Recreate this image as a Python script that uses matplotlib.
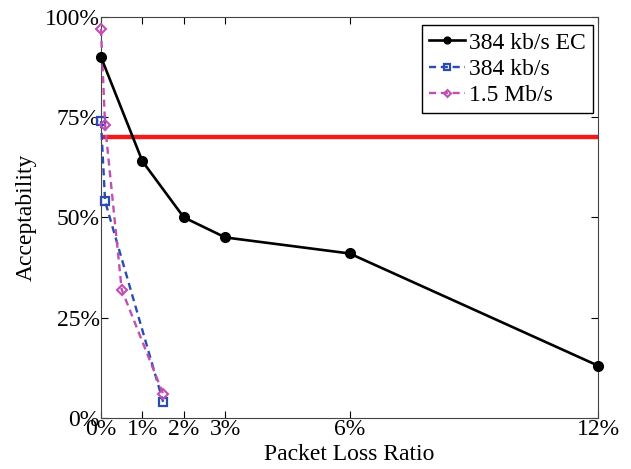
import numpy as np
import matplotlib
matplotlib.use("Agg")
import matplotlib.pyplot as plt
from matplotlib.ticker import FuncFormatter

plt.rcParams['font.family'] = ['Liberation Serif', 'DejaVu Serif']

# packet loss ratio (%) and acceptability (%)
ec_x = [0, 1, 2, 3, 6, 12]
ec_y = [90, 64, 50, 45, 41, 13]
low_x = [0, 0.1, 1.5]
low_y = [74, 54, 4]
high_x = [0, 0.1, 0.5, 1.5]
high_y = [97, 73, 32, 6]
threshold = 70

xticks = [0, 1, 2, 3, 6, 12]
yticks = [0, 25, 50, 75, 100]

fig = plt.figure(figsize=(6.31, 4.69), dpi=100)
ax = fig.add_axes([0.160, 0.109, 0.788, 0.855])

ax.axhline(threshold, color='#ee1c1c', lw=3.2)
ax.plot(ec_x, ec_y, '-o', color='black', lw=1.9, ms=7, label='384 kb/s EC',
        clip_on=False, zorder=4)
ax.plot(low_x, low_y, '--s', color='#2a4bb0', lw=1.7, ms=5.5, mfc='none',
        mew=1.6, dashes=(3, 2), label='384 kb/s', clip_on=False, zorder=3)
ax.plot(high_x, high_y, '--D', color='#bf4fb4', lw=1.7, ms=5, mfc='none',
        mew=1.5, dashes=(3, 2), label='1.5 Mb/s', clip_on=False, zorder=3)

ax.set_xlim(0, 12)
ax.set_ylim(0, 100)
ax.set_xticks(xticks)
ax.set_yticks(yticks)
pct = FuncFormatter(lambda v, p: '%d%%' % v)
ax.xaxis.set_major_formatter(pct)
ax.yaxis.set_major_formatter(pct)
ax.tick_params(direction='in', top=True, right=True, labelsize=17,
               length=5, pad=1)
ax.set_xlabel('Packet Loss Ratio', fontsize=17, labelpad=3)
ax.set_ylabel('Acceptability', fontsize=17, labelpad=6)
for s in ax.spines.values():
    s.set_color('#444444')

leg = ax.legend(loc='upper right', fontsize=17, fancybox=False,
                edgecolor='black', framealpha=1, handlelength=1.5,
                handletextpad=0.2, borderpad=0.3, labelspacing=0.2,
                borderaxespad=0, markerscale=0.7,
                bbox_to_anchor=(0.99, 0.98))
leg.get_frame().set_linewidth(1.0)

fig.savefig('out.png', dpi=100)
